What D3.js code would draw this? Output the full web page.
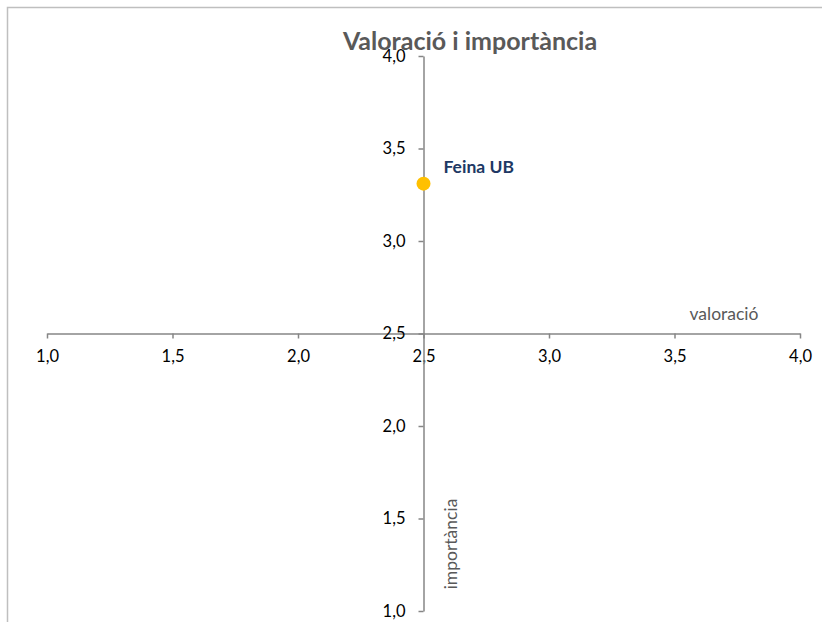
<!DOCTYPE html>
<html><head><meta charset="utf-8">
<script src="https://cdn.jsdelivr.net/npm/d3@7"></script>
<style>body{margin:0;background:#fff;}svg{display:block;}</style>
</head><body>
<script>
const xTicks = [1.0, 1.5, 2.0, 2.5, 3.0, 3.5, 4.0];
const yTicks = [1.0, 1.5, 2.0, 2.5, 3.0, 3.5, 4.0];
const pointNames = ["Feina UB"];
const valoracio = [2.5];
const importancia = [3.31];
const title = "Valoració i importància";
const xTitle = "valoració";
const yTitle = "importància";

const W = 822, H = 622;
const font = "Lato, 'Open Sans', sans-serif";
const svg = d3.select("body").append("svg").attr("width", W).attr("height", H);

// chart border
svg.append("path").attr("d", `M7.5,${H} V7.5 H${W}`).attr("fill", "none").attr("stroke", "#bfbfbf").attr("stroke-width", 1.5);

const x = d3.scaleLinear().domain([1, 4]).range([47, 800]);
const y = d3.scaleLinear().domain([1, 4]).range([611, 56]);
const fmt = d => d3.format(".1f")(d).replace(".", ",");

const xAxisG = svg.append("g").attr("transform", `translate(0,${y(2.5)})`)
  .call(d3.axisBottom(x).tickValues(xTicks).tickFormat(fmt).tickSize(5).tickSizeOuter(0).tickPadding(12));
const yAxisG = svg.append("g").attr("transform", `translate(${x(2.5)},0)`)
  .call(d3.axisLeft(y).tickValues(yTicks).tickFormat(fmt).tickSize(5).tickSizeOuter(0).tickPadding(13));
[xAxisG, yAxisG].forEach(g => {
  g.select(".domain").attr("stroke", "#868686").attr("stroke-width", 1.5);
  g.selectAll(".tick line").attr("stroke", "#868686").attr("stroke-width", 1.5);
  g.selectAll(".tick text").attr("fill", "#000").style("font-family", font).style("font-size", "16.5px");
});
yAxisG.selectAll(".tick text").attr("dy", "0.32em");

svg.append("text").attr("x", 470).attr("y", 50).attr("text-anchor", "middle")
  .style("font-family", font).style("font-size", "25px").style("font-weight", "bold")
  .attr("fill", "#595959").text(title);

svg.append("text").attr("x", 724).attr("y", 320).attr("text-anchor", "middle")
  .style("font-family", font).style("font-size", "17.5px").attr("fill", "#595959").text(xTitle);
svg.append("text").attr("transform", `translate(457,544) rotate(-90)`).attr("text-anchor", "middle")
  .style("font-family", font).style("font-size", "17.5px").attr("fill", "#595959").text(yTitle);

const pts = pointNames.map((n, i) => ({ name: n, v: valoracio[i], imp: importancia[i] }));
svg.selectAll("circle.pt").data(pts).enter().append("circle").attr("class", "pt")
  .attr("cx", d => x(d.v)).attr("cy", d => y(d.imp)).attr("r", 7).attr("fill", "#FFC000");
svg.selectAll("text.lbl").data(pts).enter().append("text").attr("class", "lbl")
  .attr("x", d => x(d.v) + 20).attr("y", d => y(d.imp) - 11)
  .style("font-family", font).style("font-size", "17.5px").style("font-weight", "bold")
  .attr("fill", "#203864").text(d => d.name);
</script>
</body></html>
